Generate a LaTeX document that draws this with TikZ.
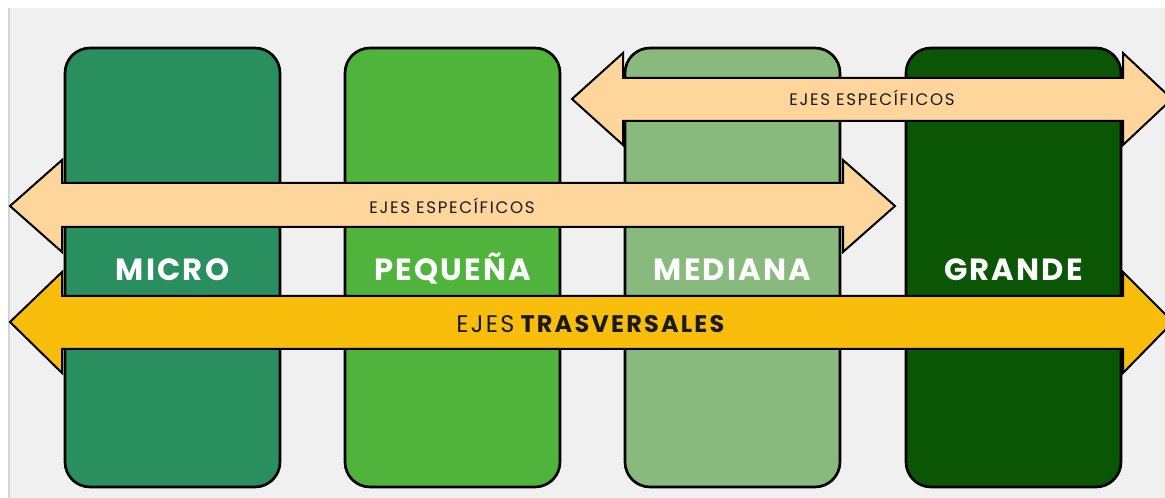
\documentclass[tikz,border=0pt]{standalone}
\usepackage{fontspec}
\setmainfont{Poppins}
\definecolor{bg}{HTML}{F0F0F0}
\definecolor{edgegray}{HTML}{D4D4D4}
\definecolor{cmicro}{HTML}{2A8F5F}
\definecolor{cpeq}{HTML}{50B33C}
\definecolor{cmed}{HTML}{88B97D}
\definecolor{cgrande}{HTML}{0B5604}
\definecolor{peach}{HTML}{FED69C}
\definecolor{amber}{HTML}{F9BE0B}
\definecolor{ink}{HTML}{1A1A1A}
\begin{document}
\begin{tikzpicture}[x=0.75pt,y=-0.75pt,
  box/.style={draw=black, line width=2pt, rounded corners=18.75pt, minimum width=161.25pt, minimum height=329.25pt, inner sep=0pt},
  arr/.style={draw=black, line width=1.5pt, line join=miter},
  lbl/.style={text=white, font=\bfseries\fontsize{23}{25}\selectfont\addfontfeatures{LetterSpace=7}, anchor=base},
  smalltxt/.style={text=ink, font=\fontsize{12.5}{14}\selectfont\addfontfeatures{LetterSpace=10}, anchor=base},
  bigtxt/.style={text=ink, font=\fontsize{18}{20}\selectfont\addfontfeatures{LetterSpace=9}, anchor=base},
]
\useasboundingbox (0,0) rectangle (1165,498);
\clip (0,0) rectangle (1165,498);
\fill[white] (0,0) rectangle (1165,498);
\fill[bg] (10,8) rectangle (1165,498);
\draw[edgegray, line width=1.5pt] (9,8) -- (9,498);

% boxes
\node[box, fill=cmicro]  (micro)  at (172.5,267.5) {};
\node[box, fill=cpeq]    (peq)    at (452.5,267.5) {};
\node[box, fill=cmed]    (med)    at (732.5,267.5) {};
\node[box, fill=cgrande] (grande) at (1013.5,267.5) {};

% box labels
\node[lbl] (lmicro)  at (172.5,281) {MICRO};
\node[lbl] (lpeq)    at (452.5,281) {PEQUEÑA};
\node[lbl] (lmed)    at (732.5,281) {MEDIANA};
\node[lbl] (lgrande) at (1013.5,281) {GRANDE};

% upper specific axes arrow
\draw[arr, fill=peach] (572,99) -- (623,53) -- (623,78) -- (1123,78) -- (1123,53) -- (1172,99)
  -- (1123,145) -- (1123,121) -- (623,121) -- (623,145) -- cycle;
\node[smalltxt] (esp1) at (872,106) {EJES ESPECÍFICOS};

% lower specific axes arrow
\draw[arr, fill=peach] (10,206) -- (62,160) -- (62,183) -- (843,183) -- (843,160) -- (895,206)
  -- (843,252) -- (843,227) -- (62,227) -- (62,252) -- cycle;
\node[smalltxt] (esp2) at (452,214) {EJES ESPECÍFICOS};

% transversal axes arrow
\draw[arr, fill=amber] (10,322) -- (62,272) -- (62,296) -- (1123,296) -- (1123,272) -- (1173,322)
  -- (1123,373) -- (1123,349) -- (62,349) -- (62,373) -- cycle;
\node[bigtxt] (trans) at (591.5,333) {EJES\hspace{3pt}\textbf{TRASVERSALES}};
\end{tikzpicture}
\end{document}
